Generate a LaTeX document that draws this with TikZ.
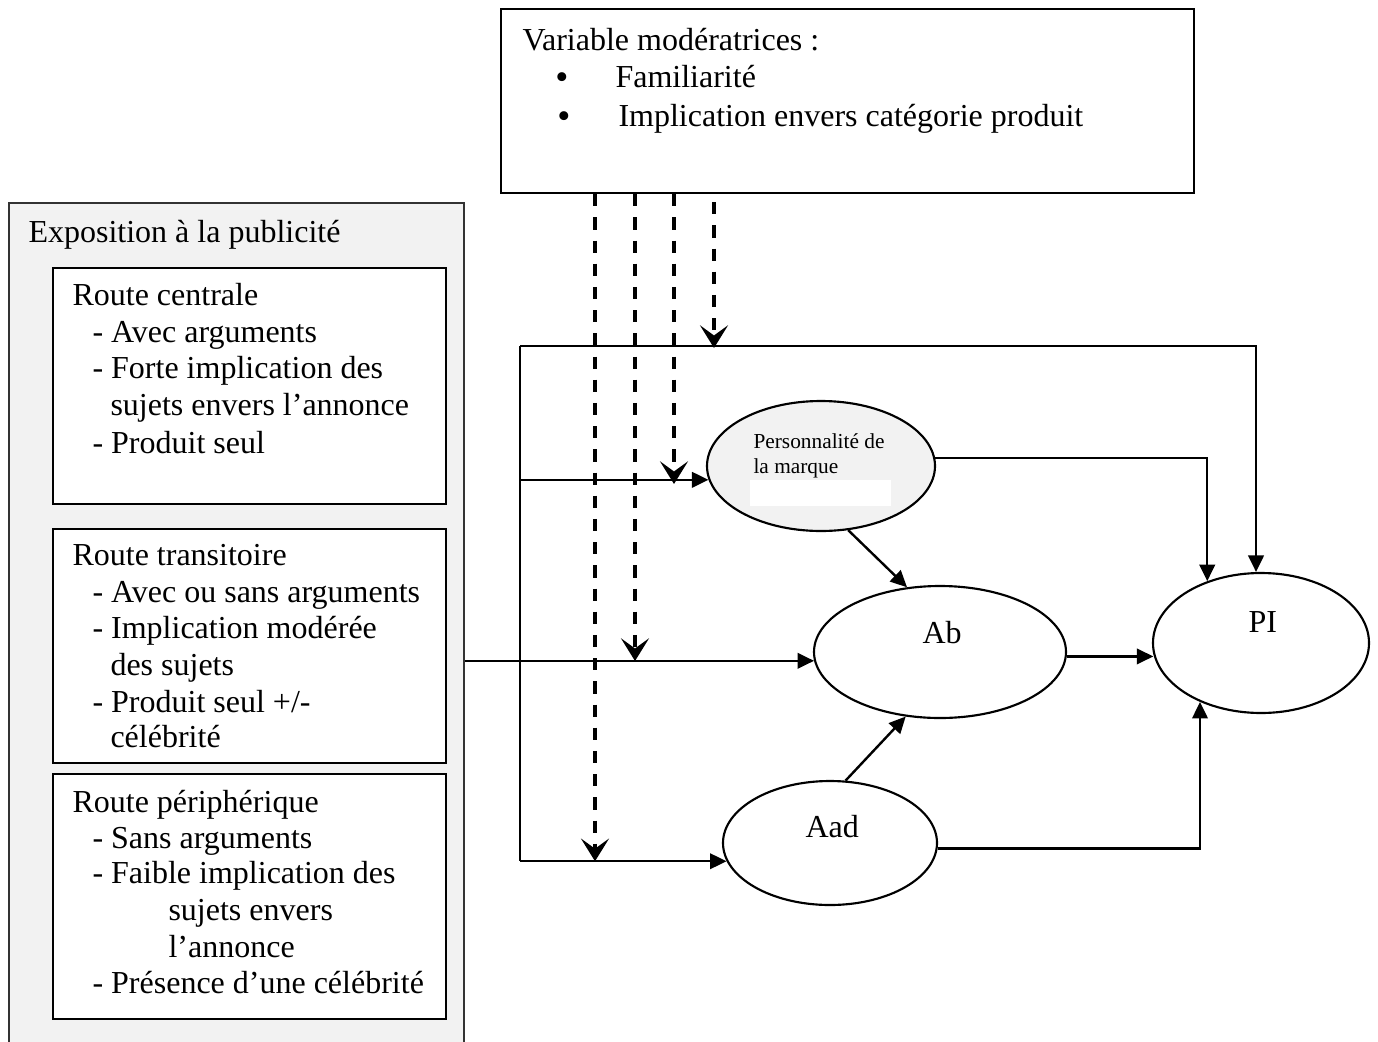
\documentclass[tikz,border=0pt]{standalone}
\usepackage{fontspec}
\setmainfont{Liberation Serif}
\usetikzlibrary{shapes.geometric,arrows.meta}
\definecolor{panel}{HTML}{F2F2F2}
\begin{document}
\begin{tikzpicture}[x=0.375pt,y=-0.375pt,
  txt/.style={anchor=base west,inner sep=0pt,font=\fontsize{12}{14}\selectfont},
  small/.style={anchor=base west,inner sep=0pt,font=\fontsize{8}{10}\selectfont},
  bul/.style={anchor=base,inner sep=0pt,font=\fontsize{14}{14}\selectfont},
  box/.style={draw,line width=0.8pt,fill=white,anchor=north west,inner sep=0pt},
  oval/.style={ellipse,draw,line width=0.8pt,fill=white,inner sep=0pt},
  conn/.style={line width=0.9pt},
  arr/.style={conn,-{Triangle[length=6.2pt,width=5.8pt]}},
  darr/.style={line width=1.4pt,dash pattern=on 4.6pt off 4.1pt,
    -{Stealth[length=8.5pt,width=10.5pt,inset=3.8pt]}}
]
\clip (0,0) rectangle (1378,1042);
\fill[white] (0,0) rectangle (1378,1042);

% moderating variables
\node[box,minimum width=259.875pt,minimum height=69pt] (mod) at (500,8) {};
\node[txt] (modT) at (522,50) {Variable modératrices :};
\node[bul] (b1) at (562,89) {•};
\node[txt] (modA) at (615,87) {Familiarité};
\node[bul] (b2) at (564,128) {•};
\node[txt] (modB) at (618,126) {Implication envers catégorie produit};

% exposure panel with the three routes
\node[box,fill=panel,draw=black!80,minimum width=170.625pt,minimum height=321.75pt] (expo) at (8,202) {};
\node[txt] (expoT) at (28,242) {Exposition à la publicité};

\node[box,minimum width=147.375pt,minimum height=88.5pt] (r1) at (52,267) {};
\node[txt] (r1a) at (72,305) {Route centrale};
\node[txt] (r1b) at (92,342) {- Avec arguments};
\node[txt] (r1c) at (92,378) {- Forte implication des};
\node[txt] (r1d) at (110,415) {sujets envers l’annonce};
\node[txt] (r1e) at (92,453) {- Produit seul};

\node[box,minimum width=147.375pt,minimum height=87.75pt] (r2) at (52,528) {};
\node[txt] (r2a) at (72,565) {Route transitoire};
\node[txt] (r2b) at (92,602) {- Avec ou sans arguments};
\node[txt] (r2c) at (92,638) {- Implication modérée};
\node[txt] (r2d) at (110,675) {des sujets};
\node[txt] (r2e) at (92,712) {- Produit seul +/-};
\node[txt] (r2f) at (110,747) {célébrité};

\node[box,minimum width=147.375pt,minimum height=91.875pt] (r3) at (52,773) {};
\node[txt] (r3a) at (72,812) {Route périphérique};
\node[txt] (r3b) at (92,848) {- Sans arguments};
\node[txt] (r3c) at (92,883) {- Faible implication des};
\node[txt] (r3d) at (168,920) {sujets envers};
\node[txt] (r3e) at (168,957) {l’annonce};
\node[txt] (r3f) at (92,993) {- Présence d’une célébrité};

% attitude nodes
\node[oval,fill=panel,minimum width=85.5pt,minimum height=48.75pt] (pers) at (821,466) {};
\fill[white] (750,480) rectangle (891,506);
\node[small] (persA) at (753,448) {Personnalité de};
\node[small] (persB) at (753,473) {la marque};

\node[oval,minimum width=94.5pt,minimum height=49.5pt] (ab) at (940,652) {};
\node[txt] (abT) at (922,643) {Ab};
\node[oval,minimum width=81pt,minimum height=52.5pt] (pi) at (1261,643) {};
\node[txt] (piT) at (1248,632) {PI};
\node[oval,minimum width=80.25pt,minimum height=46.5pt] (aad) at (830,843) {};
\node[txt] (aadT) at (805,837) {Aad};

% distribution bus
\coordinate (busA) at (520,346);
\coordinate (busB) at (busA |- aad.190);
\draw[conn] (busA) -- (busB);
\draw[arr] (busA) -| (pi.94);
\draw[arr] (busA |- pers.187) -- (pers.187);
\draw[arr] (ab.184 -| expo.east) -- (ab.184);
\draw[arr] (busB) -- (aad.190);

% paths between attitudes
\draw[arr] (pers.4.6) -| (pi.131.7);
\draw[arr] (pers.293) -- (ab.117);
\draw[arr] (ab.358.6) -- (ab.358.6 -| pi.186.4);
\draw[arr] (aad.76.3) -- (ab.242.6);
\draw[arr] (aad.357.9) -| (pi.224.8);

% moderating effects
\coordinate (m1) at (595,860);
\coordinate (m2) at (635,661);
\coordinate (m3) at (674,484);
\coordinate (m4) at (714,348);
\draw[darr] (mod.south -| m1) -- (busB -| m1);
\draw[darr] (mod.south -| m2) -- (m2);
\draw[darr] (mod.south -| m3) -- (m3);
\draw[darr] ([yshift=-3pt]mod.south -| m4) -- (m4);
\end{tikzpicture}
\end{document}
